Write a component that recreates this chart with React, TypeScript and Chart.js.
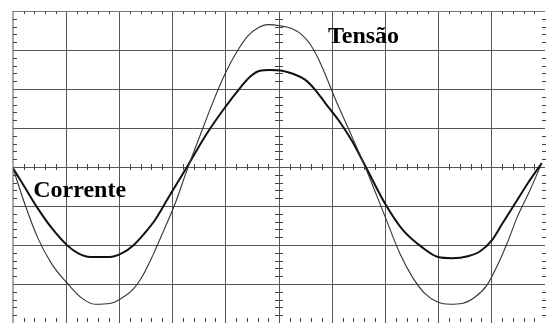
import { useEffect, useRef } from "react";
import { Chart, registerables } from "chart.js";

Chart.register(...registerables);

// Oscilloscope screen: 10 horizontal divisions, 8 vertical divisions
const xTensao = [0, 0.23, 0.47, 0.73, 1.02, 1.3, 1.54, 1.82, 2.01, 2.24, 2.44, 2.63, 2.82, 3.05, 3.27, 3.52, 3.76, 3.98, 4.21, 4.42, 4.61, 4.79, 5.02, 5.24, 5.43, 5.58, 5.73, 5.88, 6.05, 6.3, 6.62, 6.99, 7.27, 7.52, 7.74, 7.99, 8.21, 8.44, 8.68, 8.91, 9.1, 9.29, 9.47, 9.72, 9.94];
const yTensao = [-0.03, -0.98, -1.83, -2.49, -2.98, -3.37, -3.52, -3.5, -3.39, -3.16, -2.78, -2.26, -1.67, -0.93, -0.08, 0.82, 1.67, 2.37, 2.96, 3.37, 3.57, 3.65, 3.62, 3.55, 3.39, 3.16, 2.8, 2.34, 1.77, 1.0, 0.0, -1.26, -2.21, -2.85, -3.24, -3.47, -3.52, -3.5, -3.34, -3.03, -2.54, -1.95, -1.31, -0.59, 0.1];

const xCorrente = [0, 0.23, 0.45, 0.73, 1.02, 1.22, 1.45, 1.82, 2.05, 2.26, 2.46, 2.67, 2.95, 3.27, 3.65, 3.98, 4.27, 4.45, 4.64, 4.83, 5.06, 5.26, 5.49, 5.68, 5.88, 6.14, 6.37, 6.62, 6.99, 7.33, 7.71, 7.99, 8.25, 8.55, 8.78, 9.0, 9.19, 9.44, 9.68, 9.94];
const yCorrente = [-0.03, -0.54, -1.03, -1.57, -2.01, -2.21, -2.31, -2.31, -2.21, -2.01, -1.72, -1.36, -0.72, 0.0, 0.87, 1.52, 2.03, 2.31, 2.47, 2.49, 2.47, 2.39, 2.24, 1.98, 1.62, 1.16, 0.67, 0.03, -0.93, -1.62, -2.08, -2.31, -2.34, -2.29, -2.16, -1.88, -1.47, -0.93, -0.41, 0.1];

const seriesNames = ["Tensão", "Corrente"];
// label anchor points in division units [x, y]
const labelAnchors = [
  [5.92, 3.19],
  [0.38, -0.77],
];

const xDivisions = 10;
const yDivisions = 4; // half-height in divisions
const minorPerDiv = 5;

function toPoints(xs: number[], ys: number[]) {
  return xs.map((x, i) => ({ x, y: ys[i] }));
}

const scopePlugin = {
  id: "scopePlugin",
  beforeDatasetsDraw(chart: any) {
    const ctx = chart.ctx;
    const xs = chart.scales.x;
    const ys = chart.scales.y;
    ctx.save();
    ctx.strokeStyle = "#444";
    ctx.lineWidth = 1;
    const x0 = xs.getPixelForValue(0);
    const x10 = xs.getPixelForValue(xDivisions);
    const xc = xs.getPixelForValue(xDivisions / 2);
    const yTop = ys.getPixelForValue(yDivisions);
    const yBot = ys.getPixelForValue(-yDivisions);
    const yc = ys.getPixelForValue(0);
    ctx.beginPath();
    for (let i = 1; i < xDivisions * minorPerDiv; i++) {
      if (i % minorPerDiv === 0) continue;
      const px = Math.round(xs.getPixelForValue(i / minorPerDiv)) + 0.5;
      ctx.moveTo(px, yTop);
      ctx.lineTo(px, yTop + 3);
      ctx.moveTo(px, yBot - 1);
      ctx.lineTo(px, yBot - 5);
      ctx.moveTo(px, yc - 3);
      ctx.lineTo(px, yc + 3);
    }
    for (let j = -yDivisions * minorPerDiv + 1; j < yDivisions * minorPerDiv; j++) {
      if (j % minorPerDiv === 0) continue;
      const py = Math.round(ys.getPixelForValue(j / minorPerDiv)) + 0.5;
      ctx.moveTo(x0, py);
      ctx.lineTo(x0 + 4, py);
      ctx.moveTo(x10 - 3, py);
      ctx.lineTo(x10 + 1, py);
      ctx.moveTo(xc - 4, py);
      ctx.lineTo(xc + 4, py);
    }
    ctx.stroke();
    ctx.restore();
  },
  afterDatasetsDraw(chart: any) {
    const ctx = chart.ctx;
    const xs = chart.scales.x;
    const ys = chart.scales.y;
    ctx.save();
    ctx.fillStyle = "#000";
    ctx.font = "bold 24px 'Liberation Serif', 'DejaVu Serif', serif";
    ctx.textBaseline = "alphabetic";
    ctx.textAlign = "left";
    seriesNames.forEach((name, i) => {
      const [ax, ay] = labelAnchors[i];
      ctx.fillText(name, xs.getPixelForValue(ax), ys.getPixelForValue(ay));
    });
    ctx.restore();
  },
};

export default function App() {
  const ref = useRef<HTMLCanvasElement | null>(null);
  useEffect(() => {
    if (!ref.current) return;
    const chart = new Chart(ref.current, {
      type: "line",
      data: {
        datasets: [
          {
            label: seriesNames[0],
            data: toPoints(xTensao, yTensao),
            borderColor: "#333",
            borderWidth: 1.1,
            pointRadius: 0,
            cubicInterpolationMode: "monotone",
            fill: false,
          },
          {
            label: seriesNames[1],
            data: toPoints(xCorrente, yCorrente),
            borderColor: "#111",
            borderWidth: 2,
            pointRadius: 0,
            cubicInterpolationMode: "monotone",
            fill: false,
          },
        ],
      },
      options: {
        animation: false,
        responsive: false,
        maintainAspectRatio: false,
        layout: { padding: { left: 13, top: 11, right: 5, bottom: 0 } },
        plugins: { legend: { display: false }, tooltip: { enabled: false } },
        scales: {
          x: {
            type: "linear",
            min: 0,
            max: xDivisions,
            ticks: { display: false, stepSize: 1 },
            border: { display: false },
            grid: {
              drawTicks: false,
              lineWidth: (c: any) => (c.tick && c.tick.value === 0 ? 2 : 1),
              color: (c: any) => {
                const v = c.tick ? c.tick.value : 0;
                if (v === 0) return "#aaa";
                if (v === xDivisions) return "rgba(0,0,0,0)";
                return "#555";
              },
            },
          },
          y: {
            type: "linear",
            min: -yDivisions,
            max: yDivisions,
            ticks: { display: false, stepSize: 1 },
            border: { display: false },
            grid: {
              drawTicks: false,
              color: (c: any) => {
                const v = c.tick ? c.tick.value : 0;
                if (v === -yDivisions) return "rgba(0,0,0,0)";
                if (v === yDivisions) return "#777";
                return "#555";
              },
            },
          },
        },
      },
      plugins: [scopePlugin],
    });
    return () => chart.destroy();
  }, []);
  return (
    <div style={{ position: "fixed", left: 0, top: 0, width: 550, height: 323, background: "#fff" }}>
      <canvas ref={ref} width={550} height={323} style={{ display: "block", width: 550, height: 323 }} />
    </div>
  );
}
